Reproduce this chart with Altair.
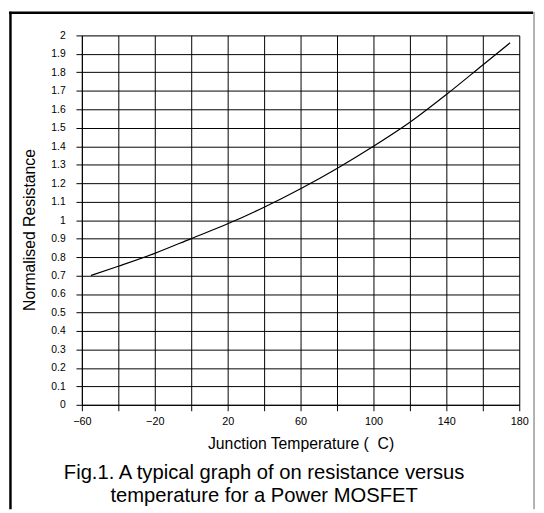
import altair as alt
import pandas as pd

# Data
temperature = [-55, -40, -20, 0, 20, 40, 60, 80, 100, 120, 140, 160, 175]
resistance = [0.70, 0.75, 0.82, 0.90, 0.98, 1.07, 1.17, 1.28, 1.40, 1.53, 1.68, 1.84, 1.96]

x_ticks = [-60, -40, -20, 0, 20, 40, 60, 80, 100, 120, 140, 160, 180]
y_ticks = [0, 0.1, 0.2, 0.3, 0.4, 0.5, 0.6, 0.7, 0.8, 0.9, 1.0,
           1.1, 1.2, 1.3, 1.4, 1.5, 1.6, 1.7, 1.8, 1.9, 2.0]

x_title = "Junction Temperature (\u00a0\u00a0C)"
y_title = "Normalised Resistance"
caption = ["Fig.1. A typical graph of on resistance versus",
           "temperature for a Power MOSFET"]

FONT = "Liberation Sans"

df = pd.DataFrame({"T": temperature, "R": resistance})

W, H = 444, 375

x_axis = alt.Axis(
    values=x_ticks,
    labelExpr="(datum.value + 60) % 40 == 0 ? datum.label : ''",
    grid=True, gridColor="black", gridWidth=1, gridOpacity=1,
    domainColor="black", tickColor="black", tickSize=6,
    labelFont=FONT, labelFontSize=11, labelColor="black", labelPadding=5,
    labelFlush=False, labelOverlap=False,
    title=x_title, titleFont=FONT, titleFontSize=16, titleFontWeight="normal",
    titleColor="black", titleY=44, titleBaseline="alphabetic",
)
y_axis = alt.Axis(
    values=y_ticks, format="~g",
    grid=True, gridColor="black", gridWidth=1, gridOpacity=1,
    domainColor="black", tickColor="black", tickSize=6,
    labelFont=FONT, labelFontSize=10.5, labelColor="black", labelPadding=11,
    labelFlush=False, labelOverlap=False,
    title=y_title, titleFont=FONT, titleFontSize=16, titleFontWeight="normal",
    titleColor="black", titleX=-45, titleY=197,
)

line = alt.Chart(df).mark_line(color="black", strokeWidth=1.2, interpolate="monotone").encode(
    x=alt.X("T:Q", scale=alt.Scale(domain=[-60, 180], nice=False, zero=False), axis=x_axis),
    y=alt.Y("R:Q", scale=alt.Scale(domain=[0, 2], nice=False), axis=y_axis),
)

frame_df = pd.DataFrame({"k": [0]})
left_border = alt.Chart(frame_df).mark_rule(color="black", strokeWidth=2.5).encode(
    x=alt.value(-72.5), y=alt.value(-24), y2=alt.value(481))
top_border = alt.Chart(frame_df).mark_rule(color="black", strokeWidth=2.5).encode(
    x=alt.value(-74), x2=alt.value(458), y=alt.value(-23))
right_border = alt.Chart(frame_df).mark_rule(color="#666666", strokeWidth=1).encode(
    x=alt.value(459), y=alt.value(-24), y2=alt.value(481))

cap_layers = []
for i, txt in enumerate(caption):
    cap_layers.append(
        alt.Chart(frame_df).mark_text(
            font=FONT, fontSize=20.5, color="black", align="center", baseline="alphabetic",
        ).encode(x=alt.value(185), y=alt.value(450.5 + 23 * i), text=alt.value(txt))
    )

chart = alt.layer(line, left_border, top_border, right_border, *cap_layers).properties(
    width=W, height=H,
    autosize=alt.AutoSizeParams(type="none"),
    padding={"left": 75, "top": 24, "right": 17, "bottom": 106},
).configure_view(stroke=None).configure(background="white")

chart.save("out.html", embed_options={"renderer": "svg", "actions": False})
